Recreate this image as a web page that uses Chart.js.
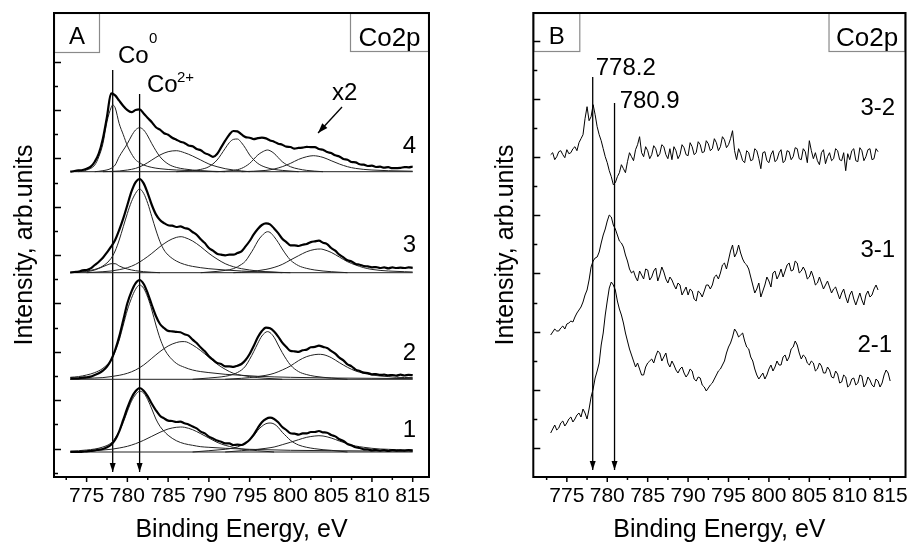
<!DOCTYPE html>
<html><head><meta charset="utf-8">
<script src="https://cdn.jsdelivr.net/npm/chart.js@4.4.1/dist/chart.umd.min.js"></script>
<style>
html,body{margin:0;padding:0;background:#fff;}
#wrap{position:relative;width:910px;height:545px;overflow:hidden;background:#fff;}
canvas{position:absolute;top:0;}
#cA{left:0;width:455px;height:545px;}
#cB{left:455px;width:460px;height:545px;}
</style></head><body>
<div id="wrap"><canvas id="cA" width="455" height="545"></canvas><canvas id="cB" width="460" height="545"></canvas></div>
<script>
// ---------------- DATA ----------------
// Energy grid for experimental spectra: 773 eV, step 0.5 eV
const energyStart = 773, energyStep = 0.5;
const xTickValues = [772.5,775,777.5,780,782.5,785,787.5,790,792.5,795,797.5,800,802.5,805,807.5,810,812.5,815];

// Panel A: stacking offsets of spectra 4,3,2,1 (arb. units)
const offsetsA = [305.3, 204.3, 97.7, 25];

// Panel A experimental spectra (height above own baseline)
const spec4Exp = [0,0.7,1.3,1.7,3,5,10,18.3,33.3,55,
 78.3,76.3,71,65.7,61.5,59.5,61.7,62.3,58.3,53.7,
 49.5,44.5,42,38.5,37,34,32,30,28.8,26.3,
 25.4,22.6,21.4,18.6,17,14.8,17.7,24.3,31,37,
 40.7,40.3,37.3,34.6,34,32.6,33.5,34,33.3,31.3,
 30,28,27,25,24.7,23,23.8,24,24.8,24.6,
 24.6,22.7,22,19.6,18.6,16.4,15.3,12.7,12,9.7,
 9.3,7.4,7,5.7,6,4.7,5,4,4.6,3.5,
 3.6,3.8,4.6,4.4,5.2];
const spec3Exp = [0.3,0.7,1,2.3,2.7,4.3,7.7,11,15,20.3,
 26,32.7,42.7,54.3,67.7,81,90.3,93.7,89.3,79.3,
 67.7,58.3,52.7,49.6,47.4,47,45.7,46.3,44.7,43.6,
 40.7,38,33.4,29.6,24.7,22,19,18,17.4,18,
 18,19.6,21.4,26.3,31.7,38.3,43.7,47.7,49.3,48.3,
 44.3,39.6,34,30.6,27.4,27.3,26.7,28,28.7,30.6,
 31.4,32,30,28.6,24.7,22,18,15.3,12.4,11.3,
 8.7,8,6.7,6.3,5.4,5.6,4.7,5.3,4.4,5.3,
 4.7,5,4.7,5.3,4.8];
const spec2Exp = [1,1,1,1.7,2,2.7,4.3,6,8.7,12.7,
 19.3,29.3,42.7,59.3,76,87.7,96,99.3,95.3,86,
 74.3,63.3,55.3,51.3,48.4,48,47.4,47,45,43.6,
 39.7,36.3,31.7,28,23,19.6,16.4,15.3,13,13,
 12.4,13.6,15.3,19.3,25.3,33.3,42,48.3,51.7,51,
 47.7,42.7,36.7,32.3,28.4,28,27.4,29,29.7,32,
 32.4,33.6,32.4,31.3,28.4,25.6,21.7,19,15,13,
 9.7,8.3,6.7,6.3,5,5.3,4.4,4.6,4,4.3,
 3.7,4.6,3.8,4.5,4.1];
const spec1Exp = [0,0,0,0.3,0.7,1,1.7,2.3,3,4.7,
 7.3,12.3,20.7,32.3,44,54,60.7,64,61.3,55.7,
 48.3,41.7,36.3,33.6,31.4,31,30,30.3,28.7,27.6,
 25.4,23.6,20.4,18.6,15.4,13.6,11.4,10.3,8.7,8.6,
 7,7.3,7,9,12.3,17.3,24,29.7,33,34.3,
 33,29.7,25,22,18.7,18.3,17.4,18.6,18.7,20,
 20,21,19.7,19.3,17,15.6,12.7,11,8,6.6,
 4.7,4,2.7,2.6,1.7,2,1.4,2,1,2,
 1.4,1.6,1.4,2,1.5];

// Panel A fitted components: [energy, height]
const spec4Co0 = [[774,0],[775,1.7],[776,6.7],[776.5,15],[777,28],[777.5,50],[778,64],[778.2,66.7],[778.5,64],[779,48],[779.5,37],[780,26],[780.5,18],[781,12],[781.5,9],[782,6.7],[783,4.3],[784,3],[786,1.7],[788,1],[791,0]];
const spec4Co2 = [[776,0],[777,1],[778,3.3],[778.5,6.7],[779,15],[780,28],[780.5,35.7],[781,41.7],[781.5,44],[782,41.7],[782.5,35.7],[783,28],[784,15],[785,7.7],[786,4.3],[787,2.7],[788,1.7],[790,0.5],[792,0]];
const spec4Sat1 = [[777,0],[779,0.7],[780,1.7],[781,3.3],[782,6.7],[783,11.7],[784,16.7],[785,20],[786,21],[787,19],[788,15.7],[789,11.7],[790,7.7],[791,5],[792,3],[793,1.7],[795,0]];
const spec4Co0b = [[786,0],[788,1],[789,2.3],[790,5],[791,11.7],[792,23.3],[792.5,29],[793,32.3],[793.5,32.7],[794,29],[794.5,23.3],[795,16.7],[796,8.3],[797,4.3],[798,2.3],[799,1.3],[801,0]];
const spec4Co2b = [[791,0],[793,1.3],[794,3.3],[795,8.3],[796,16.7],[796.5,19.5],[797.2,21.7],[797.5,21],[798,18.3],[799,10],[800,5],[801,2.7],[802,1.3],[804,0]];
const spec4Sat2 = [[794,0],[797,1.3],[798,2.7],[799,5],[800,8.3],[801,12.3],[802,15],[802.8,16],[804,14.3],[805,11],[806,7.7],[807,5],[808,3.3],[809,2.3],[810,1.7],[812,1],[815,0.5]];

const spec3Co0 = [[773,0],[775,1],[776,2.7],[777,6],[777.5,7.7],[778,9],[778.5,9],[779,6.7],[780,3.7],[781,2],[782,1],[784,0]];
const spec3Co2 = [[773,0],[774,1],[775,1.7],[776,3.3],[777,6.7],[778,14.3],[778.5,21.7],[779,32.7],[779.5,46],[780,59.3],[780.5,71],[781,79.3],[781.5,83.7],[782,79.3],[782.5,69.3],[783,56],[783.5,42.7],[784,31],[784.5,22.7],[785,17.7],[786,11.7],[787,8.3],[788,6.3],[789,5],[790,4],[792,2.7],[794,1.7],[796,1],[800,0]];
const spec3Sat1 = [[775,0],[777,1],[778,1.7],[779,3],[780,5],[781,8.3],[782,13.3],[783,19.3],[784,26],[785,31.7],[786,35.3],[786.6,36],[787,35.3],[788,31.7],[789,26],[790,19.3],[791,13.7],[792,9],[793,6],[794,4],[795,2.7],[796,1.7],[797,1],[799,0]];
const spec3Co2b = [[789,0],[791,1.3],[792,2.3],[793,4],[794,8.3],[794.5,11.7],[795,17.7],[795.5,24.3],[796,31.7],[796.5,37],[797.2,41],[797.5,40.3],[798,36],[798.5,30.3],[799,23.7],[799.5,17.7],[800,12.7],[801,7],[802,4.3],[803,2.7],[804,1.7],[805,1],[807,0]];
const spec3Sat2 = [[793,0],[795,1],[796,2],[797,3.3],[798,5.3],[799,8.3],[800,12.7],[801,17],[802,21],[803,23.3],[803.7,23.7],[804,23.3],[805,20.3],[806,15.7],[807,11],[808,7.7],[809,5],[810,3.3],[811,2.3],[812,1.7],[814,1],[815,0.7]];

const spec2Co2 = [[773,2],[774,2.7],[775,4.3],[776,6.7],[777,11],[778,19.3],[778.5,27.7],[779,39.3],[779.5,54.3],[780,69.3],[780.5,81],[781,90],[781.5,94.3],[782,91],[782.5,82],[783,69.3],[783.5,54.3],[784,41],[784.5,31],[785,24.3],[786,16],[787,12],[788,9.3],[789,7.7],[790,6.7],[792,5],[794,4],[796,3],[800,2],[805,1.3],[810,1],[815,0.7]];
const spec2Sat1 = [[773,0],[775,1],[777,1.7],[778,2.7],[779,4],[780,6],[781,9.3],[782,14.3],[783,21],[784,27.7],[785,33.3],[786,36.7],[786.7,37.7],[787,37.7],[788,34.3],[789,28.7],[790,22],[791,15.3],[792,10],[793,6],[794,4],[795,2.7],[796,1.7],[797,1],[799,0]];
const spec2Co2b = [[788,0],[790,1.3],[791,2],[792,3],[793,5],[794,9.3],[794.5,13.3],[795,20],[795.5,27.7],[796,36],[796.5,43.3],[797.2,47.7],[797.5,46.7],[798,42],[798.5,34.3],[799,26.7],[799.5,20],[800,14.3],[801,7.7],[802,4.7],[803,3],[804,2],[805,1.3],[807,0]];
const spec2Sat2 = [[792,0],[794,1],[795,1.7],[796,2.7],[797,4],[798,6],[799,9.3],[800,13.3],[801,18.7],[802,22.7],[803,24.7],[803.4,25],[804,24.7],[805,21.7],[806,16.7],[807,12],[808,8.3],[809,6],[810,4.3],[811,3.3],[812,2.7],[813,2],[815,1.7]];

const spec1Co2 = [[773,1],[774,1.3],[775,2],[776,3],[777,5],[778,9],[778.5,14],[779,20.7],[779.5,29.7],[780,40.7],[780.5,50.7],[781,57.3],[781.5,60.7],[782,59],[782.5,52.3],[783,43],[783.5,33],[784,25.7],[784.5,20.7],[785,16.7],[786,11.3],[787,8.3],[788,6.7],[789,5.3],[790,4.7],[792,3.7],[795,2.7],[800,1.7],[805,1.3],[815,0.7]];
const spec1Sat1 = [[774,0],[776,1.3],[777,2],[778,2.7],[779,4],[780,5.7],[781,8.3],[782,11.7],[783,15.7],[784,19.7],[785,23],[786,24.7],[786.5,25],[787,24.7],[788,22.3],[789,18.3],[790,14],[791,9.7],[792,6.7],[793,4.7],[794,3],[795,2],[796,1.3],[798,0]];
const spec1Co2b = [[788,0],[790,1.3],[791,2],[792,2.7],[793,4],[794,6.7],[794.5,9],[795,12.3],[795.5,16.3],[796,21.7],[796.5,25.7],[797,28.3],[797.5,29],[798,28],[798.5,24.7],[799,19.7],[799.5,15.7],[800,11.7],[801,7],[802,4.7],[803,3.3],[804,2.3],[805,1.7],[807,0]];
const spec1Sat2 = [[792,0],[794,1.3],[795,2],[796,2.7],[797,3.7],[798,5],[799,7.3],[800,9.7],[801,12.3],[802,14.7],[803,16],[803.5,16.3],[804,16],[805,14],[806,11],[807,8.3],[808,6],[809,4.7],[810,3.7],[811,3],[812,2.7],[814,2],[815,2]];

// Panel A marker energies
const markersA = [778.2, 781.5];

// Panel B: difference spectra (values at 773, 773.5, ... and at the in-between 773.25, 773.75, ...)
const offsetsB = [320.3, 142, 44]; // 3-2, 3-1, 2-1
const diff32 = [2,-3,5,2,7,4,10,14,22,50,
 40,42,22,8,-6,-20,-26,-16,-12,-5,
 0,7,20,0,6,2,8,3,10,-2,
 -3,6,2,9,1,10,4,12,5,13,
 8,14,10,17,12,26,-3,3,-6,4,
 -3,6,-12,5,-6,6,-3,7,-4,5,
 0,8,-3,5,16,-2,-4,4,-7,4,
 -2,6,-4,-14,-3,8,-5,6,0,8,
 -2,5];
const diff32Mid = [4,0,6,-1,3,8,6,18,38,36,
 52,30,16,0,-14,-28,-20,-8,-16,4,
 -4,12,4,10,-2,11,0,12,2,8,
 10,-2,12,2,14,2,15,4,16,6,
 18,6,20,9,18,6,8,-4,6,-4,
 8,-2,4,-4,2,-5,4,-6,6,-3,
 9,-2,8,-6,6,4,-8,7,0,-4,
 8,-3,4,3,6,-4,9,-4,7,-3,
 8];
const diff31 = [0,6,4,9,11,14,18,25,33,45,
 68,77,83,100,114,118,106,94,88,74,
 62,58,64,56,65,58,67,60,63,52,
 55,46,50,44,40,44,34,42,44,50,
 50,60,62,72,75,90,82,82,72,66,
 50,46,38,50,54,62,56,66,64,72,
 65,72,64,64,58,58,52,52,50,48,
 46,42,42,38,40,36,36,35,40,38,
 46,45];
const diff31Mid = [3,4,7,6,12,13,22,28,40,55,
 74,78,92,106,120,110,100,92,80,66,
 64,54,60,66,55,64,54,68,56,58,
 50,52,40,48,46,36,44,38,50,46,
 58,56,70,66,84,78,90,76,70,58,
 42,52,44,58,48,64,60,58,70,64,
 74,62,68,56,64,50,58,46,54,42,
 48,36,46,32,44,30,42,30,44,40,
 50];
const diff21 = [0,8,5,12,10,16,14,20,24,14,
 36,55,70,100,132,151,143,124,110,92,
 78,66,64,58,70,74,77,80,76,70,
 72,63,64,60,59,62,52,55,46,45,
 50,58,64,72,86,96,101,98,92,84,
 72,58,57,54,64,62,72,68,78,76,
 86,88,74,76,68,70,64,67,60,63,
 55,59,51,56,48,55,50,57,49,53,
 46,52,50,63,52];
const diff21Mid = [4,3,10,7,14,11,18,16,20,24,
 44,62,88,118,145,148,132,118,100,84,
 72,70,58,66,72,70,82,72,80,66,
 68,60,66,56,64,54,56,48,42,48,
 54,62,68,80,90,104,96,100,86,76,
 64,54,60,58,68,66,68,76,72,84,
 92,80,78,70,72,62,70,60,66,56,
 62,50,58,46,54,48,58,46,56,48,
 54,46,58,60];
const markersB = [778.2, 780.9];

// ---------------- HELPERS ----------------
const FONT = "'Liberation Sans', Arial, Helvetica, sans-serif";
const onGrid = (arr, off) => arr.map((v, i) => ({x: energyStart + i * energyStep, y: off + v}));
const onGridInterleaved = (arr, mid, off) => {
  const out = [];
  arr.forEach((v, i) => {
    out.push({x: energyStart + i * energyStep, y: off + v});
    if (i < mid.length) out.push({x: energyStart + i * energyStep + energyStep / 2, y: off + mid[i]});
  });
  return out;
};
const onPairs = (arr, off) => arr.map(([e, v]) => ({x: e, y: off + v}));
const ds = (data, w, color, smooth) => ({data, borderColor: color, borderWidth: w, pointRadius: 0, fill: false,
  cubicInterpolationMode: smooth ? 'monotone' : 'default', tension: 0});

const deco = {
  id: 'deco',
  afterDraw(chart, args, o) {
    const {ctx, chartArea: ca, scales: {x, y}} = chart;
    ctx.save();
    ctx.fillStyle = '#000'; ctx.strokeStyle = '#000';
    // arrowheads
    chart.data.datasets.forEach((d, i) => {
      if (!d.arrowHead) return;
      const pts = chart.getDatasetMeta(i).data;
      const a = pts[0], b = pts[pts.length - 1];
      const ang = Math.atan2(b.y - a.y, b.x - a.x), L = d.arrowHead[0], W = d.arrowHead[1];
      ctx.beginPath();
      ctx.moveTo(b.x, b.y);
      ctx.lineTo(b.x - L * Math.cos(ang) + W * Math.sin(ang), b.y - L * Math.sin(ang) - W * Math.cos(ang));
      ctx.lineTo(b.x - L * Math.cos(ang) - W * Math.sin(ang), b.y - L * Math.sin(ang) + W * Math.cos(ang));
      ctx.closePath(); ctx.fill();
    });
    // boxes
    o.boxes.forEach(b => {
      const bx = b.right ? ca.right - b.w : ca.left, by = ca.top;
      ctx.fillStyle = '#fff'; ctx.fillRect(bx, by, b.w, b.h);
      ctx.strokeStyle = '#8a8a8a'; ctx.lineWidth = 1.2;
      ctx.strokeRect(bx + 0.5, by + 0.5, b.w - 1, b.h - 1);
      ctx.fillStyle = '#000'; ctx.font = b.size + 'px ' + FONT;
      ctx.textAlign = 'center'; ctx.textBaseline = 'alphabetic';
      ctx.fillText(b.text, bx + b.w / 2, by + b.base);
    });
    // frame
    ctx.strokeStyle = '#000'; ctx.lineWidth = 2;
    ctx.strokeRect(ca.left, ca.top, ca.right - ca.left, ca.bottom - ca.top);
    // ticks
    ctx.lineWidth = 1.5;
    y.ticks.forEach(t => {
      const py = Math.round(y.getPixelForValue(t.value)) + 0.5, len = t.major ? 7 : 4;
      ctx.beginPath(); ctx.moveTo(ca.left, py); ctx.lineTo(ca.left + len, py); ctx.stroke();
    });
    x.ticks.forEach(t => {
      const px = x.getPixelForValue(t.value), len = (Math.abs(t.value % 5) < 1e-6) ? 5 : 3;
      ctx.beginPath(); ctx.moveTo(px, ca.bottom); ctx.lineTo(px, ca.bottom + len); ctx.stroke();
    });
    // labels
    ctx.fillStyle = '#000'; ctx.textBaseline = 'alphabetic';
    o.labels.forEach(l => {
      ctx.font = l.size + 'px ' + FONT;
      ctx.textAlign = l.align || 'left';
      ctx.fillText(l.text, x.getPixelForValue(l.x), y.getPixelForValue(l.y));
    });
    ctx.restore();
  }
};

function makeOptions(xmin, xmax, yWidth, pad, yTicks, decoOpts) {
  return {
    responsive: false, animation: false, devicePixelRatio: 1,
    layout: {padding: pad},
    plugins: {legend: {display: false}, tooltip: {enabled: false}, deco: decoOpts},
    scales: {
      x: {type: 'linear', min: xmin, max: xmax,
        afterBuildTicks: s => { s.ticks = xTickValues.map(v => ({value: v})); },
        afterFit: s => { s.height = 68; },
        grid: {display: false, drawTicks: false}, border: {display: false},
        ticks: {autoSkip: false, maxRotation: 0, minRotation: 0, padding: 7, color: '#000',
          font: {family: FONT, size: 21},
          callback: v => (Math.abs(v % 5) < 1e-6 ? String(v) : '')},
        title: {display: true, text: 'Binding Energy, eV', color: '#000',
          font: {family: FONT, size: 25}, padding: {top: 0, bottom: 0}}
      },
      y: {type: 'linear', min: 0, max: 464,
        afterBuildTicks: s => { s.ticks = yTicks; },
        afterFit: s => { s.width = yWidth; },
        grid: {display: false, drawTicks: false}, border: {display: false},
        ticks: {display: false},
        title: {display: true, text: 'Intensity, arb.units', color: '#000',
          font: {family: FONT, size: 25}, padding: {top: 10, bottom: 0}}
      }
    }
  };
}

// ---------------- PANEL A ----------------
const expA = [spec4Exp, spec3Exp, spec2Exp, spec1Exp];
const compsA = [
  [spec4Co0, spec4Co2, spec4Sat1, spec4Co0b, spec4Co2b, spec4Sat2],
  [spec3Co0, spec3Co2, spec3Sat1, spec3Co2b, spec3Sat2],
  [spec2Co2, spec2Sat1, spec2Co2b, spec2Sat2],
  [spec1Co2, spec1Sat1, spec1Co2b, spec1Sat2]
];
const dsA = [];
expA.forEach((arr, i) => {
  const off = offsetsA[i];
  dsA.push(ds(onGrid(arr, off), 2.2, '#000', true));
  compsA[i].forEach(c => dsA.push(ds(onPairs(c, off), 1, '#222', true)));
  dsA.push(ds([{x: 773, y: off}, {x: 815, y: off}], 1, '#222', false));
});
const mA0 = ds([{x: markersA[0], y: 407}, {x: markersA[0], y: 5}], 1.3, '#000', false); mA0.arrowHead = [9, 3];
const mA1 = ds([{x: markersA[1], y: 383}, {x: markersA[1], y: 5}], 1.3, '#000', false); mA1.arrowHead = [9, 3];
const arrX2 = ds([{x: 806.33, y: 370}, {x: 803.39, y: 344}], 1.3, '#000', false); arrX2.arrowHead = [10, 3.5];
dsA.push(mA0, mA1, arrX2);

const yTicksA = [];
for (let k = 0; k < 18; k++) yTicksA.push({value: 4.3 + 24.18 * k, major: k % 2 === 1});

new Chart(document.getElementById('cA'), {
  type: 'line',
  data: {datasets: dsA},
  plugins: [deco],
  options: makeOptions(771, 817, 54, {left: 0, right: 26, top: 13, bottom: 0}, yTicksA, {
    boxes: [{text: 'A', w: 46, h: 40, base: 31, size: 24}, {text: 'Co2p', w: 79, h: 39, base: 33, size: 26, right: true}],
    labels: [
      {text: 'Co', x: 778.85, y: 414, size: 24},
      {text: '0', x: 782.65, y: 434, size: 15},
      {text: 'Co', x: 782.41, y: 385, size: 24},
      {text: '2+', x: 786.09, y: 395, size: 15},
      {text: 'x2', x: 805.1, y: 377, size: 24},
      {text: '4', x: 815.41, y: 324, size: 24, align: 'right'},
      {text: '3', x: 815.41, y: 225, size: 24, align: 'right'},
      {text: '2', x: 815.41, y: 117, size: 24, align: 'right'},
      {text: '1', x: 815.41, y: 40, size: 24, align: 'right'}
    ]
  })
});

// ---------------- PANEL B ----------------
const diffsB = [[diff32, diff32Mid], [diff31, diff31Mid], [diff21, diff21Mid]];
const dsB = diffsB.map(([arr, mid], i) => ds(onGridInterleaved(arr, mid, offsetsB[i]), 1, '#000', false));
const mB0 = ds([{x: markersB[0], y: 400}, {x: markersB[0], y: 7}], 1.3, '#000', false); mB0.arrowHead = [9, 3];
const mB1 = ds([{x: markersB[1], y: 374}, {x: markersB[1], y: 7}], 1.3, '#000', false); mB1.arrowHead = [9, 3];
dsB.push(mB0, mB1);

const yTicksB = [];
for (let k = 1; k <= 15; k++) yTicksB.push({value: 29.08 * k, major: k % 2 === 1});

new Chart(document.getElementById('cB'), {
  type: 'line',
  data: {datasets: dsB},
  plugins: [deco],
  options: makeOptions(770.85, 816.9, 52.3, {left: 26, right: 7.7, top: 13, bottom: 0}, yTicksB, {
    boxes: [{text: 'B', w: 47, h: 39, base: 31, size: 24}, {text: 'Co2p', w: 77, h: 39, base: 33, size: 26, right: true}],
    labels: [
      {text: '778.2', x: 778.57, y: 402, size: 24},
      {text: '780.9', x: 781.53, y: 369, size: 24},
      {text: '3-2', x: 811.32, y: 362, size: 24},
      {text: '3-1', x: 811.32, y: 220, size: 24},
      {text: '2-1', x: 810.95, y: 125, size: 24}
    ]
  })
});
</script></body></html>
